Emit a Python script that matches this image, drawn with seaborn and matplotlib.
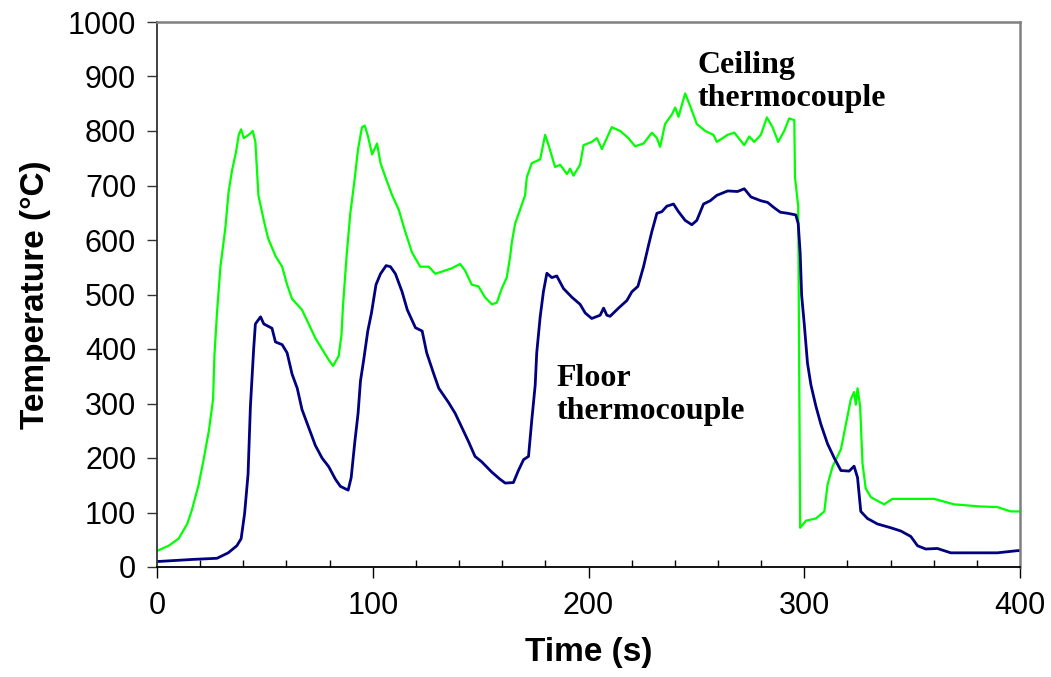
import numpy as np
import pandas as pd
import matplotlib
matplotlib.use("Agg")
import matplotlib.pyplot as plt
import seaborn as sns
from matplotlib.ticker import MultipleLocator

# ---------------- data ----------------
ceiling_time = [0, 5.4, 10, 14, 16.2, 19.3, 21.6, 24, 26, 26.6,
                27.8, 29.4, 31.7, 33.2, 34.8, 36.6, 37.9, 39, 40.2, 42.5,
                44.4, 45.6, 47, 49.5, 51.5, 55, 58, 60.3, 62.6, 67.2,
                70.3, 73.4, 76.5, 79.6, 81.6, 84.2, 85.5, 86.2, 88, 89.6,
                91.5, 93.2, 95, 96.3, 97.8, 99.7, 102, 103.6, 105.9, 109,
                112, 115, 118.2, 122, 126, 129, 133.5, 136.6, 140.5, 142.8,
                145.9, 149, 152, 155.2, 157.5, 159.8, 162.1, 163.7, 164.5, 166,
                168.3, 170.6, 171.4, 173.7, 177.6, 179.9, 181.5, 184.5, 186.9, 190,
                191.5, 193, 196.1, 197.7, 201.5, 203.9, 206.2, 208.5, 210.8, 214.7,
                218.5, 221.6, 225.5, 229.4, 231.7, 233.2, 235.5, 238.6, 240.2, 241.7,
                244.8, 247.1, 250.2, 254.1, 257.9, 259.5, 264.5, 267.6, 272.2, 274.5,
                276.8, 279.9, 282.7, 285.3, 287.9, 290.7, 293, 295.4, 295.7, 297.2,
                298.1, 300.8, 305.4, 309.3, 310.8, 313.1, 317, 319.3, 321.6, 323.1,
                323.9, 324.7, 325.9, 327, 328.5, 330.9, 337, 340.9, 354, 360.2,
                369.4, 381.8, 389.5, 395.7, 400]
ceiling_temp = [29.5, 39, 52, 79, 105, 151, 197, 249, 308, 387,
                466, 551, 623, 689, 728, 761, 793, 803, 787, 793,
                800, 780, 682, 636, 603, 570, 551, 518, 492, 472,
                446, 420, 400, 380, 369, 387, 426, 479, 577, 649,
                708, 767, 807, 810, 790, 757, 777, 741, 715, 682,
                656, 616, 577, 551, 551, 538, 544, 548, 556, 544,
                518, 515, 495, 482, 485, 511, 531, 570, 597, 630,
                656, 682, 715, 741, 748, 793, 774, 734, 738, 721,
                731, 718, 738, 774, 780, 787, 767, 787, 807, 800,
                787, 772, 777, 797, 787, 771, 813, 830, 843, 826,
                869, 846, 813, 800, 793, 780, 793, 797, 774, 790,
                780, 793, 825, 807, 780, 800, 823, 820, 715, 662,
                72, 85, 89, 102, 151, 184, 216, 262, 308, 321,
                298, 328, 295, 190, 144, 128, 115, 125, 125, 125,
                115, 111, 110, 102, 102]

floor_time = [0, 17, 27.8, 33, 37, 39, 40.6, 42.2, 43.3, 44.8,
              45.6, 48, 49.5, 53.3, 54.9, 58, 60.3, 62.6, 65, 67.2,
              70.3, 73.4, 76.5, 79.6, 82.7, 85, 88.6, 90, 91.7, 93.2,
              94.3, 95.8, 97.7, 99.4, 101.5, 103.6, 106.2, 108.2, 110.5, 113.6,
              116, 119.8, 122.9, 125, 128.3, 130.6, 135.1, 138.2, 141.3, 144.4,
              147.4, 150.5, 155.2, 159, 161.4, 165.2, 167.5, 169.9, 172.2, 173.7,
              175.3, 176, 177.6, 179.1, 180.7, 183, 185.3, 188.4, 192.3, 196.1,
              198.5, 201.5, 205.4, 207, 208.5, 210, 213.9, 217.8, 220.1, 222.9,
              225.5, 227.8, 229.4, 231.7, 234, 236.3, 239.4, 241.7, 244.8, 247.9,
              250.2, 253.3, 256.4, 259.5, 264.5, 269.1, 272.2, 275.3, 279.9, 283,
              286.1, 288.9, 292.3, 296.1, 297.2, 298.1, 298.8, 300, 301.5, 303.1,
              305.4, 307.7, 310.8, 313.9, 317, 320.8, 323.1, 324.7, 326.2, 329.3,
              333.9, 340.1, 344.8, 349.4, 352.5, 356.3, 361.7, 367.9, 389.5, 398.8,
              400]
floor_temp = [10, 14, 16, 26, 39, 52, 98, 170, 295, 400,
              446, 459, 446, 438, 413, 408, 393, 354, 328, 289,
              256, 223, 200, 184, 161, 148, 141, 164, 230, 282,
              341, 380, 433, 466, 518, 538, 553, 551, 538, 505,
              472, 439, 433, 393, 354, 328, 302, 282, 256, 230,
              203, 193, 174, 161, 154, 155, 177, 197, 203, 269,
              334, 393, 459, 505, 539, 531, 534, 511, 495, 482,
              466, 456, 462, 475, 462, 460, 475, 489, 505, 515,
              551, 590, 616, 649, 652, 662, 666, 652, 636, 628,
              636, 666, 672, 682, 690, 689, 694, 679, 672, 669,
              659, 651, 649, 646, 630, 577, 498, 446, 374, 334,
              295, 262, 226, 200, 177, 176, 185, 164, 102, 89,
              79, 72, 66, 56, 39, 33, 34, 26, 26, 30,
              30]

x_ticks = [0, 100, 200, 300, 400]
y_ticks = [0, 100, 200, 300, 400, 500, 600, 700, 800, 900, 1000]
x_label = "Time (s)"
y_label = "Temperature (°C)"
ceiling_label = "Ceiling\nthermocouple"
floor_label = "Floor\nthermocouple"

# ---------------- plotting ----------------
sns.set_theme(style="white")
plt.rcParams["font.family"] = ["Liberation Sans", "DejaVu Sans"]
plt.rcParams["text.color"] = "black"
plt.rcParams["axes.labelcolor"] = "black"
plt.rcParams["xtick.color"] = "black"
plt.rcParams["ytick.color"] = "black"

fig = plt.figure(figsize=(10.51, 6.77), dpi=100)
ax = fig.add_axes([157 / 1051, 1 - 567 / 677, (1020 - 157) / 1051, (567 - 22) / 677])

ceiling_df = pd.DataFrame({"t": ceiling_time, "T": ceiling_temp})
floor_df = pd.DataFrame({"t": floor_time, "T": floor_temp})

sns.lineplot(data=ceiling_df, x="t", y="T", ax=ax, color="#00FF00", lw=1.6,
             estimator=None, sort=False)
sns.lineplot(data=floor_df, x="t", y="T", ax=ax, color="#000080", lw=2.0,
             estimator=None, sort=False)

ax.set_xlim(0, 400)
ax.set_ylim(0, 1000)
ax.set_xticks(x_ticks)
ax.set_yticks(y_ticks)
ax.xaxis.set_minor_locator(MultipleLocator(20))

ax.tick_params(axis="x", which="major", direction="out", length=8, width=1,
               color="black", labelcolor="black", labelsize=22, pad=9, bottom=True)
ax.tick_params(axis="x", which="minor", direction="in", length=5, width=1,
               color="black", bottom=True)
ax.tick_params(axis="y", which="major", direction="out", length=7, width=1,
               color="#333333", labelcolor="black", labelsize=22, pad=8, left=True)

for side in ["top", "right"]:
    ax.spines[side].set_color("#808080")
    ax.spines[side].set_linewidth(1.8)
ax.spines["left"].set_color("#333333")
ax.spines["left"].set_linewidth(1.3)
ax.spines["bottom"].set_color("black")
ax.spines["bottom"].set_linewidth(1.3)

ax.set_xlabel(x_label, fontsize=24, fontweight="bold", labelpad=12, color="black")
ax.set_ylabel(y_label, fontsize=24, fontweight="bold", labelpad=12, color="black")

ax.text(250.3, 947, ceiling_label, fontsize=23, fontweight="bold", color="black",
        family=["Liberation Serif", "DejaVu Serif"], va="top", ha="left",
        linespacing=1.2)
ax.text(185, 373, floor_label, fontsize=23, fontweight="bold", color="black",
        family=["Liberation Serif", "DejaVu Serif"], va="top", ha="left",
        linespacing=1.2)

fig.savefig("out.png", dpi=100)
